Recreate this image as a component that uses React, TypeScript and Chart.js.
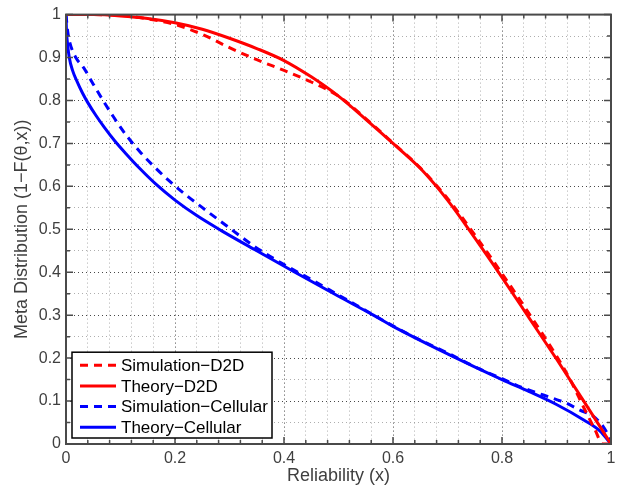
import React, { useEffect, useRef } from "react";
import { Chart, registerables } from "chart.js";

Chart.register(...registerables);

// ---- Data ----
const simD2DX = [0, 0.05, 0.1, 0.15, 0.2, 0.25, 0.3, 0.35, 0.4, 0.45, 0.5, 0.55, 0.6, 0.65, 0.7, 0.75, 0.8, 0.85, 0.9, 0.925, 0.95, 0.97, 0.985, 1];
const simD2DY = [1, 1, 0.998, 0.99, 0.977, 0.954, 0.923, 0.895, 0.87, 0.843, 0.81, 0.758, 0.701, 0.643, 0.572, 0.487, 0.397, 0.303, 0.205, 0.15, 0.085, 0.035, 0, 0];

const theoryD2DX = [0, 0.05, 0.1, 0.15, 0.2, 0.25, 0.3, 0.35, 0.4, 0.45, 0.5, 0.55, 0.6, 0.65, 0.7, 0.75, 0.8, 0.85, 0.9, 0.95, 1];
const theoryD2DY = [1, 1, 0.997, 0.991, 0.981, 0.966, 0.945, 0.921, 0.893, 0.855, 0.81, 0.756, 0.7, 0.642, 0.568, 0.48, 0.388, 0.293, 0.198, 0.1, 0];

const simCellX = [0, 0.003, 0.007, 0.018, 0.032, 0.05, 0.068, 0.087, 0.11, 0.136, 0.16, 0.19, 0.22, 0.258, 0.3, 0.347, 0.4, 0.45, 0.5, 0.55, 0.6, 0.65, 0.7, 0.75, 0.8, 0.84, 0.867, 0.894, 0.918, 0.943, 0.968, 0.986, 1];
const simCellY = [1, 0.962, 0.935, 0.9, 0.877, 0.838, 0.8, 0.762, 0.72, 0.68, 0.648, 0.612, 0.58, 0.543, 0.503, 0.459, 0.418, 0.383, 0.347, 0.311, 0.275, 0.242, 0.212, 0.18, 0.152, 0.13, 0.118, 0.106, 0.095, 0.079, 0.064, 0.04, 0.01];

const theoryCellX = [0, 0.001, 0.003, 0.006, 0.012, 0.02, 0.03, 0.04, 0.055, 0.07, 0.09, 0.11, 0.135, 0.165, 0.2, 0.24, 0.285, 0.35, 0.42, 0.5, 0.564, 0.6, 0.7, 0.8, 0.85, 0.9, 0.95, 0.98, 1];
const theoryCellY = [1, 0.96, 0.93, 0.9, 0.87, 0.845, 0.818, 0.795, 0.765, 0.738, 0.705, 0.676, 0.642, 0.605, 0.568, 0.532, 0.497, 0.45, 0.4, 0.344, 0.3, 0.274, 0.21, 0.15, 0.122, 0.092, 0.056, 0.03, 0];

const seriesLabels = ["Simulation\u2212D2D", "Theory\u2212D2D", "Simulation\u2212Cellular", "Theory\u2212Cellular"];
const xTitle = "Reliability (x)";
const yTitle = "Meta Distribution (1\u2212F(\u03B8,x))";

const toPoints = (xs: number[], ys: number[]) => xs.map((x, i) => ({ x, y: ys[i] }));

const FONT = "'Liberation Sans', Arial, Helvetica, sans-serif";
const TEXT_GREY = "#3f3f3f";
const AXIS_GREY = "#4a4a4a";

const boxTicksPlugin = {
  id: "boxTicks",
  afterDatasetsDraw(chart: any) {
    const { ctx, chartArea: a, scales } = chart;
    ctx.save();
    ctx.strokeStyle = AXIS_GREY;
    ctx.lineWidth = 1.5;
    const xs = scales.x, ys = scales.y;
    xs.ticks.forEach((t: any, i: number) => {
      const px = xs.getPixelForValue(t.value);
      const len = i % 5 === 0 ? 7 : 4;
      ctx.beginPath();
      ctx.moveTo(px, a.bottom);
      ctx.lineTo(px, a.bottom - len);
      ctx.moveTo(px, a.top);
      ctx.lineTo(px, a.top + len);
      ctx.stroke();
    });
    ys.ticks.forEach((t: any, i: number) => {
      const py = ys.getPixelForValue(t.value);
      const len = i % 2 === 0 ? 7 : 4;
      ctx.beginPath();
      ctx.moveTo(a.left, py);
      ctx.lineTo(a.left + len, py);
      ctx.moveTo(a.right, py);
      ctx.lineTo(a.right - len, py);
      ctx.stroke();
    });
    ctx.lineWidth = 2;
    ctx.strokeRect(a.left, a.top, a.right - a.left, a.bottom - a.top);
    ctx.restore();
  },
};

const insideLegendPlugin = {
  id: "insideLegend",
  afterDraw(chart: any) {
    const { ctx, chartArea: a } = chart;
    const ds = chart.data.datasets;
    const left = a.left + 6;
    const width = 200;
    const rowH = 20.7;
    const height = rowH * ds.length + 3;
    const bottom = a.bottom - 6;
    const top = bottom - height;
    ctx.save();
    ctx.fillStyle = "#ffffff";
    ctx.fillRect(left, top, width, height);
    ctx.strokeStyle = "#000000";
    ctx.lineWidth = 1.5;
    ctx.strokeRect(left, top, width, height);
    ctx.font = `17px ${FONT}`;
    ctx.textBaseline = "middle";
    ctx.textAlign = "left";
    ds.forEach((d: any, i: number) => {
      const cy = top + 13 + i * rowH;
      ctx.strokeStyle = d.borderColor;
      ctx.lineWidth = d.borderWidth;
      ctx.setLineDash(d.borderDash || []);
      ctx.beginPath();
      ctx.moveTo(left + 8, cy);
      ctx.lineTo(left + 44, cy);
      ctx.stroke();
      ctx.setLineDash([]);
      ctx.fillStyle = "#000000";
      ctx.fillText(d.label, left + 49, cy + 1);
    });
    ctx.restore();
  },
};

export default function App() {
  const canvasRef = useRef<HTMLCanvasElement | null>(null);

  useEffect(() => {
    const canvas = canvasRef.current;
    if (!canvas) return;
    const common = {
      pointRadius: 0,
      borderWidth: 3,
      fill: false,
      cubicInterpolationMode: "monotone" as const,
    };
    const chart = new Chart(canvas, {
      type: "line",
      data: {
        datasets: [
          { ...common, label: seriesLabels[0], data: toPoints(simD2DX, simD2DY), borderColor: "#ff0000", borderDash: [8, 6] },
          { ...common, label: seriesLabels[1], data: toPoints(theoryD2DX, theoryD2DY), borderColor: "#ff0000" },
          { ...common, label: seriesLabels[2], data: toPoints(simCellX, simCellY), borderColor: "#0000ff", borderDash: [8, 6] },
          { ...common, label: seriesLabels[3], data: toPoints(theoryCellX, theoryCellY), borderColor: "#0000ff" },
        ],
      },
      options: {
        animation: false,
        responsive: false,
        devicePixelRatio: 1,
        layout: { padding: { top: 14, right: 18, left: 0, bottom: 0 } },
        plugins: { legend: { display: false }, tooltip: { enabled: false } },
        scales: {
          x: {
            type: "linear",
            min: 0,
            max: 1,
            afterFit: (s: any) => { s.height = 43; },
            ticks: {
              stepSize: 0.04,
              autoSkip: false,
              maxRotation: 0,
              padding: 5,
              color: TEXT_GREY,
              font: { family: FONT, size: 16 },
              callback: (v: any, i: number) => (i % 5 === 0 ? String(Math.round(Number(v) * 10) / 10) : ""),
            },
            grid: {
              drawTicks: false,
              lineWidth: 1,
              color: (c: any) => (c.index % 5 === 0 ? "rgba(40,40,40,0.85)" : "rgba(120,120,120,0.6)"),
            },
            border: { display: false, dash: [1, 3] },
            title: { display: true, text: xTitle, color: TEXT_GREY, font: { family: FONT, size: 18 }, padding: { top: 0, bottom: 0 } },
          },
          y: {
            type: "linear",
            min: 0,
            max: 1,
            afterFit: (s: any) => { s.width = 66; },
            ticks: {
              stepSize: 0.05,
              autoSkip: false,
              padding: 5,
              color: TEXT_GREY,
              font: { family: FONT, size: 16 },
              callback: (v: any, i: number) => (i % 2 === 0 ? String(Math.round(Number(v) * 10) / 10) : ""),
            },
            grid: {
              drawTicks: false,
              lineWidth: 1,
              color: (c: any) => (c.index % 2 === 0 ? "rgba(40,40,40,0.85)" : "rgba(120,120,120,0.6)"),
            },
            border: { display: false, dash: [1, 3] },
            title: { display: true, text: yTitle, color: TEXT_GREY, font: { family: FONT, size: 18 }, padding: { top: 11, bottom: 0 } },
          },
        },
      },
      plugins: [boxTicksPlugin, insideLegendPlugin],
    } as any);
    return () => chart.destroy();
  }, []);

  return (
    <div style={{ position: "fixed", left: 0, top: 0, width: 629, height: 487, background: "#ffffff" }}>
      <canvas ref={canvasRef} width={629} height={487} style={{ display: "block" }} />
    </div>
  );
}
